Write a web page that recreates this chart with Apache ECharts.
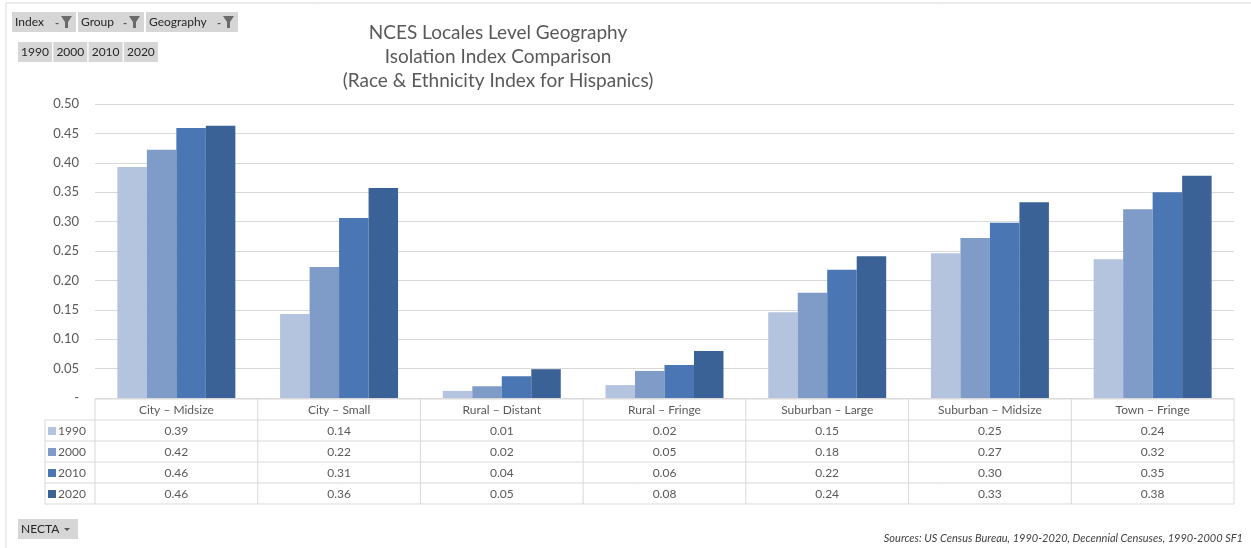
<!DOCTYPE html>
<html><head><meta charset="utf-8">
<script src="https://cdn.jsdelivr.net/npm/echarts@6/dist/echarts.min.js"></script>
<style>html,body{margin:0;padding:0;background:#fff}#c{width:1251px;height:548px}</style>
</head><body><div id="c"></div>
<script>
const categories = ['City – Midsize','City – Small','Rural – Distant','Rural – Fringe','Suburban – Large','Suburban – Midsize','Town – Fringe'];
const years = ['1990','2000','2010','2020'];
const v1990 = [0.393,0.143,0.012,0.022,0.146,0.246,0.236];
const v2000 = [0.422,0.223,0.020,0.046,0.179,0.272,0.321];
const v2010 = [0.459,0.306,0.037,0.056,0.218,0.298,0.350];
const v2020 = [0.463,0.357,0.049,0.080,0.241,0.333,0.378];
const seriesValues = [v1990,v2000,v2010,v2020];
const colors = ['#b4c3de','#7f9cc8','#4a77b4','#3b6296'];
const titleLines = ['NCES Locales Level Geography','Isolation Index Comparison','(Race & Ethnicity Index for Hispanics)'];
const filterButtons = ['Index','Group','Geography'];
const sourceText = 'Sources: US Census Bureau, 1990-2020, Decennial Censuses, 1990-2000 SF1';
const FONT = 'Lato, "Open Sans", sans-serif';

const chart = echarts.init(document.getElementById('c'), null, {renderer:'canvas'});
const GL = 95, GR = 17, GT = 104, GB = 150;
chart.setOption({
  animation:false,
  grid:{left:GL,right:GR,top:GT,bottom:GB},
  xAxis:{type:'category',data:categories,axisLine:{show:false},axisTick:{show:false},axisLabel:{show:false}},
  yAxis:{type:'value',min:0,max:0.5,interval:0.05,axisLine:{show:false},axisTick:{show:false},
    splitLine:{lineStyle:{color:'#d9d9d9',width:1}},
    axisLabel:{color:'#595959',fontSize:13,fontFamily:FONT,margin:16,
      formatter:v=>Math.abs(v)<1e-9?'-':v.toFixed(2)}},
  series:years.map((y,i)=>({name:y,type:'bar',data:seriesValues[i],barGap:'0%',barCategoryGap:'27.5%',
    itemStyle:{color:colors[i]}}))
});

const g = [];
// outer frame
g.push({type:'rect',shape:{x:6,y:3,width:1260,height:560},style:{fill:null,stroke:'#d9d9d9',lineWidth:1},silent:true});
// title
titleLines.forEach((t,i)=>g.push({type:'text',x:498,y:33+i*24,style:{text:t,fill:'#595959',font:'19px '+FONT,textAlign:'center',textVerticalAlign:'middle'}}));
// filter buttons
const btnX=[12,78,146], btnW=[64,66,92];
filterButtons.forEach((b,i)=>{
  g.push({type:'rect',shape:{x:btnX[i],y:12,width:btnW[i],height:20},style:{fill:'#d6d6d6'}});
  g.push({type:'text',x:btnX[i]+3,y:22,style:{text:b,fill:'#262626',font:'12px '+FONT,textVerticalAlign:'middle'}});
  const fx=btnX[i]+btnW[i]-21;
  g.push({type:'text',x:fx,y:23,style:{text:'-',fill:'#555',font:'bold 11px '+FONT,textVerticalAlign:'middle'}});
  g.push({type:'polygon',shape:{points:[[fx+6,16],[fx+17,16],[fx+13,22],[fx+13,28],[fx+10,28],[fx+10,22]]},style:{fill:'#6a6a6a'}});
});
// year buttons
years.forEach((y,i)=>{
  const x=18+i*35.3;
  g.push({type:'rect',shape:{x:x,y:42,width:34,height:20},style:{fill:'#d6d6d6'}});
  g.push({type:'text',x:x+17,y:52,style:{text:y,fill:'#262626',font:'12px '+FONT,textAlign:'center',textVerticalAlign:'middle'}});
});
// NECTA button
g.push({type:'rect',shape:{x:18,y:519,width:60,height:20},style:{fill:'#d6d6d6'}});
g.push({type:'text',x:21,y:529,style:{text:'NECTA',fill:'#262626',font:'12px '+FONT,textVerticalAlign:'middle'}});
g.push({type:'polygon',shape:{points:[[64,528],[70,528],[67,531]]},style:{fill:'#555'}});
// sources
g.push({type:'text',x:1243,y:538,style:{text:sourceText,fill:'#404040',font:'italic 11px '+FONT,textAlign:'right',textVerticalAlign:'middle'}});

// data table
const c0 = chart.convertToPixel({xAxisIndex:0},0), c1 = chart.convertToPixel({xAxisIndex:0},1);
const half=(c1-c0)/2;
const right = chart.convertToPixel({xAxisIndex:0},categories.length-1)+half;
const left = c0-half;
const rowTop=399, rowH=21;
const lc='#d9d9d9';
g.push({type:'line',shape:{x1:left,y1:rowTop,x2:right,y2:rowTop},style:{stroke:lc,lineWidth:1}});
for(let r=1;r<=5;r++){const y=rowTop+r*rowH;g.push({type:'line',shape:{x1:45,y1:y,x2:right,y2:y},style:{stroke:lc,lineWidth:1}});}
g.push({type:'line',shape:{x1:45,y1:rowTop+rowH,x2:45,y2:rowTop+5*rowH},style:{stroke:lc,lineWidth:1}});
for(let k=0;k<=categories.length;k++){const x=left+k*2*half;g.push({type:'line',shape:{x1:x,y1:rowTop,x2:x,y2:rowTop+5*rowH},style:{stroke:lc,lineWidth:1}});}
categories.forEach((c,i)=>{
  const cx=chart.convertToPixel({xAxisIndex:0},i);
  g.push({type:'text',x:cx,y:rowTop+rowH/2+1,style:{text:c,fill:'#595959',font:'12px '+FONT,textAlign:'center',textVerticalAlign:'middle'}});
  seriesValues.forEach((arr,s)=>{
    g.push({type:'text',x:cx,y:rowTop+(s+1)*rowH+rowH/2+1,style:{text:arr[i].toFixed(2),fill:'#595959',font:'12px '+FONT,textAlign:'center',textVerticalAlign:'middle'}});
  });
});
years.forEach((y,s)=>{
  const cy=rowTop+(s+1)*rowH+rowH/2;
  g.push({type:'rect',shape:{x:48,y:cy-3.5,width:8,height:8},style:{fill:colors[s]}});
  g.push({type:'text',x:58,y:cy+1,style:{text:y,fill:'#595959',font:'12px '+FONT,textVerticalAlign:'middle'}});
});
chart.setOption({graphic:g});
</script></body></html>
